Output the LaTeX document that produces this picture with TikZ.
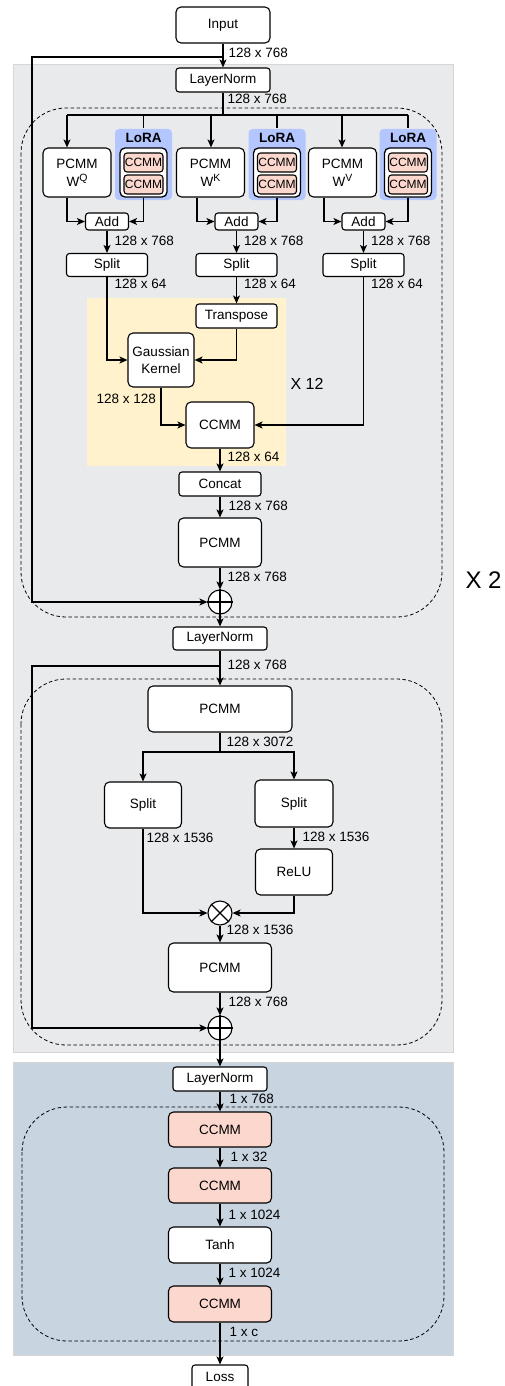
\documentclass[tikz,border=0pt]{standalone}
\usepackage{fontspec}
\setmainfont{Liberation Sans}
\usetikzlibrary{arrows.meta,calc,positioning,backgrounds}
\definecolor{bggray}{RGB}{233,234,236}
\definecolor{bgedge}{RGB}{214,214,216}
\definecolor{bgblue}{RGB}{200,212,224}
\definecolor{lorablue}{RGB}{179,198,255}
\definecolor{ccmmpink}{RGB}{251,215,205}
\definecolor{loopyellow}{RGB}{255,242,204}
\tikzset{
    block/.style = {draw, fill=white, rounded corners=5pt, align=center,
        inner sep=0pt, font=\fontsize{13.5}{17}\selectfont},
    smallblock/.style = {block, rounded corners=3pt},
    ccmm/.style = {block, fill=ccmmpink},
    lorabox/.style = {fill=lorablue, rounded corners=4pt, inner sep=0pt},
    sum/.style = {draw, circle, fill=white, minimum size=24pt, inner sep=0pt},
    dimlabel/.style = {anchor=west, inner sep=0pt, font=\fontsize{13.5}{17}\selectfont},
    dashgroup/.style = {draw, dash pattern=on 3.5pt off 2.5pt, line width=0.8pt, rounded corners=45pt}
}
\newcommand{\wsup}[1]{W\raisebox{5pt}{\fontsize{10.5}{10.5}\selectfont #1}}

\begin{document}
\begin{tikzpicture}[x=1pt, y=-1pt, >={Stealth[length=8pt,width=7pt,inset=2pt]}, line width=1.1pt]
    \useasboundingbox (0,0) rectangle (505,1386);
    % backgrounds
    \fill[bggray, draw=bgedge, line width=0.6pt] (13,64) rectangle (453,1052);
    \fill[bgblue, draw=bgedge, line width=0.6pt] (13,1062) rectangle (453,1355);
    \fill[loopyellow] (87,298) rectangle (286,466);
    \draw[dashgroup] (21,108) rectangle (442,617);
    \draw[dashgroup] (21,679) rectangle (442,1045);
    \draw[dashgroup] (22,1107) rectangle (444,1341);

    % encoder: attention
    \node[block, minimum width=94pt, minimum height=36pt] (input) at (223,25) {Input};
    \node[smallblock, minimum width=94pt, minimum height=24pt] (lna) at (223,80) {LayerNorm};
    \draw[->] (input) -- (lna);
    \node[dimlabel] (dinput) at (228,53) {128 x 768};
    \node[dimlabel] (dlna) at (227,99) {128 x 768};
    \foreach \n/\s/\xp/\xl/\xa/\xi/\xo in {q/Q/77/143.5/107/67/67, k/K/210.5/277/236.5/211/197, v/V/342.5/408/363.5/342/324}{
        \node[block, minimum width=68pt, minimum height=49pt] (pcmm\n) at (\xp,172.5) {PCMM\\[1pt]\wsup{\s}};
        \node[lorabox, minimum width=57pt, minimum height=71pt] (lora\n) at (\xl,164.5) {};
        \node[inner sep=0pt, font=\bfseries\fontsize{13.5}{17}\selectfont] (lorat\n) at (\xl,138) {LoRA};
        \node[block, line width=1.3pt, minimum width=47pt, minimum height=49pt] (lorain\n) at (\xl,172.5) {};
        \node[ccmm, rounded corners=3pt, minimum width=39pt, minimum height=19pt, font=\fontsize{12}{14}\selectfont] (lorac\n1) at (\xl,162.5) {CCMM};
        \node[ccmm, rounded corners=3pt, minimum width=39pt, minimum height=19pt, font=\fontsize{12}{14}\selectfont] (lorac\n2) at (\xl,184.5) {CCMM};
        \node[smallblock, minimum width=43pt, minimum height=17pt] (add\n) at (\xa,221.5) {Add};
        \node[smallblock, minimum width=81pt, minimum height=23pt] (split\n) at (\xa,265) {Split};
        \coordinate (bus\n) at (\xi,115);
        \coordinate (out\n) at (\xo,0);
        \draw[->] (bus\n) -- (bus\n |- pcmm\n.north);
        \draw (bus\n -| lora\n) -- (lora\n);
        \draw[->] (pcmm\n.south -| out\n) |- (add\n);
        \draw[->] (lorain\n) |- (add\n);
        \draw[->] (add\n) -- (split\n);
        \node[dimlabel] (dadd\n) at (\xa+7,241) {128 x 768};
        \node[dimlabel] (dsplit\n) at (\xa+7,284) {128 x 64};
    }
    \draw (lna) -- (lna |- busq);
    \draw (busq) -- (busq -| lorav);

    % attention heads
    \node[smallblock, minimum width=81pt, minimum height=24pt] (transpose) at (236.5,316) {Transpose};
    \node[block, minimum width=66pt, minimum height=54pt] (gauss) at (161,360) {Gaussian\\Kernel};
    \node[block, minimum width=68pt, minimum height=46pt] (ccmma) at (220,425) {CCMM};
    \node[anchor=west, inner sep=0pt, font=\fontsize{16}{19}\selectfont] (rephead) at (290,384) {X 12};
    \node[dimlabel] (dgauss) at (96,399) {128 x 128};
    \draw[->] (splitq) |- (gauss);
    \draw[->] (splitk) -- (transpose);
    \draw[->] (transpose) |- (gauss);
    \draw[->] (gauss) |- (ccmma);
    \draw[->] (splitv) |- (ccmma);

    \node[smallblock, minimum width=82pt, minimum height=24pt] (concat) at (220,484) {Concat};
    \node[block, minimum width=83pt, minimum height=49pt] (pcmma) at (220,542.5) {PCMM};
    \node[sum] (oplusa) at (220,602) {};
    \node[dimlabel] (dccmma) at (227,457) {128 x 64};
    \node[dimlabel] (dconcat) at (228,506) {128 x 768};
    \node[dimlabel] (dpcmma) at (227,577) {128 x 768};
    \node[anchor=west, inner sep=0pt, font=\fontsize{24}{28}\selectfont] (replayer) at (465,580) {X 2};
    \draw[->] (ccmma) -- (concat);
    \draw[->] (concat) -- (pcmma);
    \draw[->] (pcmma) -- (oplusa);
    \coordinate (skipa) at (223,57);
    \coordinate (skipla) at (32,57);
    \draw[->] (skipa) -- (skipla) |- (oplusa);

    % encoder: feed forward
    \node[smallblock, minimum width=94pt, minimum height=23pt] (lnb) at (220,638.5) {LayerNorm};
    \node[block, minimum width=144pt, minimum height=46pt] (pcmmb) at (220,709) {PCMM};
    \node[block, minimum width=77pt, minimum height=46pt] (splitl) at (143,805) {Split};
    \node[block, minimum width=78pt, minimum height=47pt] (splitr) at (294,803.5) {Split};
    \node[block, minimum width=77pt, minimum height=46pt] (relu) at (294,872) {ReLU};
    \node[sum] (otimes) at (220,913) {};
    \node[block, minimum width=103pt, minimum height=49pt] (pcmmc) at (220,967.5) {PCMM};
    \node[sum] (oplusb) at (220,1028) {};
    \node[dimlabel] (dlnb) at (227,665) {128 x 768};
    \node[dimlabel] (dpcmmb) at (226,742) {128 x 3072};
    \node[dimlabel] (dsplitl) at (146,838) {128 x 1536};
    \node[dimlabel] (dsplitr) at (302,837) {128 x 1536};
    \node[dimlabel] (dotimes) at (226,930) {128 x 1536};
    \node[dimlabel] (dpcmmc) at (228,1002) {128 x 768};
    \draw[->] (oplusa) -- (lnb);
    \draw[->] (lnb) -- (pcmmb);
    \coordinate (skipb) at (220,666);
    \coordinate (skiplb) at (32,666);
    \draw[->] (skipb) -- (skiplb) |- (oplusb);
    \coordinate (brk) at (220,752);
    \draw (pcmmb) -- (brk);
    \draw[->] (brk) -| (splitl);
    \draw[->] (brk) -| (splitr);
    \draw[->] (splitr) -- (relu);
    \draw[->] (splitl) |- (otimes);
    \draw[->] (relu) |- (otimes);
    \draw[->] (otimes) -- (pcmmc);
    \draw[->] (pcmmc) -- (oplusb);
    \foreach \o in {oplusa,oplusb}
        \draw (\o.north) -- (\o.south) (\o.west) -- (\o.east);
    \draw (otimes.north east) -- (otimes.south west) (otimes.north west) -- (otimes.south east);

    % classifier head
    \node[smallblock, minimum width=94pt, minimum height=24pt] (lnc) at (220,1079) {LayerNorm};
    \node[ccmm, minimum width=103pt, minimum height=35pt] (ccmmb) at (220,1129.5) {CCMM};
    \node[ccmm, minimum width=103pt, minimum height=35pt] (ccmmc) at (220,1185.5) {CCMM};
    \node[block, minimum width=103pt, minimum height=36pt] (tanh) at (220,1245) {Tanh};
    \node[ccmm, minimum width=103pt, minimum height=36pt] (ccmmd) at (220,1304) {CCMM};
    \node[smallblock, minimum width=56pt, minimum height=24pt] (loss) at (220,1377) {Loss};
    \node[dimlabel] (dlnc) at (229,1099) {1 x 768};
    \node[dimlabel] (dccmmb) at (230,1157) {1 x 32};
    \node[dimlabel] (dccmmc) at (228,1215) {1 x 1024};
    \node[dimlabel] (dtanh) at (228,1273) {1 x 1024};
    \node[dimlabel] (dccmmd) at (229,1332) {1 x c};
    \draw[->] (oplusb) -- (lnc);
    \draw[->] (lnc) -- (ccmmb);
    \draw[->] (ccmmb) -- (ccmmc);
    \draw[->] (ccmmc) -- (tanh);
    \draw[->] (tanh) -- (ccmmd);
    \draw[->] (ccmmd) -- (loss);
\end{tikzpicture}
\end{document}
